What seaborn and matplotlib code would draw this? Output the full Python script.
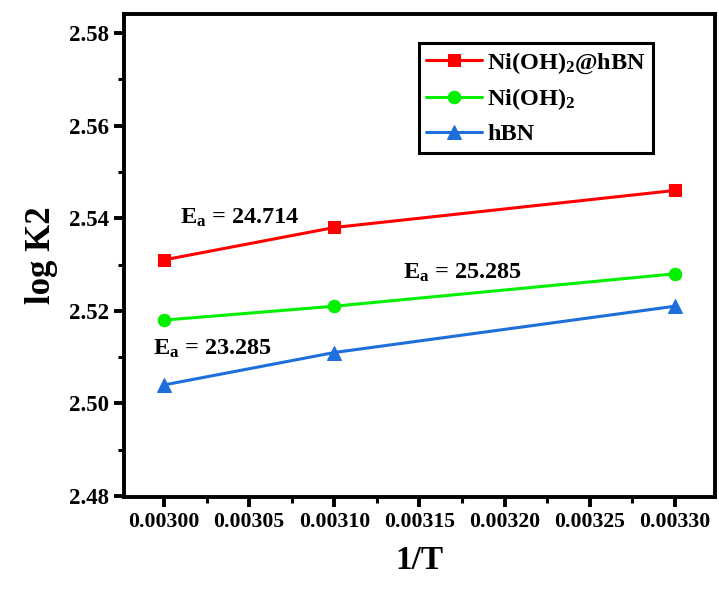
import matplotlib
matplotlib.use("Agg")
import matplotlib.pyplot as plt
import seaborn as sns
import pandas as pd
from matplotlib.ticker import MultipleLocator, FormatStrFormatter

inv_T = [0.00300, 0.00310, 0.00330]
ni_hbn = [2.531, 2.538, 2.546]
ni_oh = [2.518, 2.521, 2.528]
hbn = [2.504, 2.511, 2.521]
series_names = [r"Ni(OH)$_\mathbf{2}$@hBN", r"Ni(OH)$_\mathbf{2}$", "hBN"]
ea_labels = [r"E$_\mathbf{a}$ = 24.714", r"E$_\mathbf{a}$ = 25.285", r"E$_\mathbf{a}$ = 23.285"]

sns.set_style("ticks")
plt.rcParams["font.family"] = ["Liberation Serif", "DejaVu Serif"]
plt.rcParams["font.weight"] = "bold"
plt.rcParams["text.color"] = "black"
plt.rcParams["axes.labelcolor"] = "black"
plt.rcParams["xtick.color"] = "black"
plt.rcParams["ytick.color"] = "black"
plt.rcParams["mathtext.fontset"] = "custom"
plt.rcParams["mathtext.rm"] = "Liberation Serif:bold"
plt.rcParams["mathtext.bf"] = "Liberation Serif:bold"
plt.rcParams["mathtext.it"] = "Liberation Serif:bold:italic"

df = pd.DataFrame({
    "x": inv_T * 3,
    "y": ni_hbn + ni_oh + hbn,
    "series": [series_names[0]] * 3 + [series_names[1]] * 3 + [series_names[2]] * 3,
})

fig = plt.figure(figsize=(7.19, 5.94), dpi=100)
ax = fig.add_axes([124/719, 1-497/594, (715-124)/719, (497-14)/594])

colors = ["#FF0000", "#00F000", "#1E6FDC"]
markers = ["s", "o", "^"]
msizes = [8, 9, 10]
for name, c, m, ms in zip(series_names, colors, markers, msizes):
    sub = df[df["series"] == name]
    sns.lineplot(data=sub, x="x", y="y", ax=ax, color=c, marker=m, markersize=ms,
                 markeredgecolor=c, linewidth=2.2, label=name)

ax.set_xlim(0.0029765, 0.0033235)
ax.set_ylim(2.4798, 2.5841)
ax.xaxis.set_major_locator(MultipleLocator(0.00005))
ax.xaxis.set_minor_locator(MultipleLocator(0.000025))
ax.xaxis.set_major_formatter(FormatStrFormatter("%.5f"))
ax.yaxis.set_major_locator(MultipleLocator(0.02))
ax.yaxis.set_minor_locator(MultipleLocator(0.01))
ax.yaxis.set_major_formatter(FormatStrFormatter("%.2f"))
ax.tick_params(which="major", direction="out", length=7, width=2.8, labelsize=15.7,
               colors="black")
ax.tick_params(axis="y", which="major", labelsize=16.5)
ax.tick_params(which="minor", direction="out", length=4, width=2.2, colors="black")
for lab in ax.get_xticklabels() + ax.get_yticklabels():
    lab.set_fontweight("bold")
for s in ax.spines.values():
    s.set_linewidth(2.8)
    s.set_color("black")

ax.set_xlabel("1/T", fontsize=24, fontweight="bold", labelpad=10, color="black")
ax.set_ylabel("log K2", fontsize=25, fontweight="bold", labelpad=8, color="black")

ax.text(0.0030094, 2.5400, ea_labels[0], fontsize=17.5, fontweight="bold", va="center")
ax.text(0.0031403, 2.5282, ea_labels[1], fontsize=17.5, fontweight="bold", va="center")
ax.text(0.0029935, 2.5117, ea_labels[2], fontsize=17.5, fontweight="bold", va="center")

leg = ax.legend(loc="upper right", bbox_to_anchor=(0.895, 0.94), borderaxespad=0,
                fontsize=17.5, frameon=True, fancybox=False, framealpha=1,
                handlelength=2.3, handletextpad=0.2, borderpad=0.3, labelspacing=0.45)
leg.get_frame().set_edgecolor("black")
leg.get_frame().set_linewidth(2.2)
for t in leg.get_texts():
    t.set_fontweight("bold")
    t.set_color("black")

fig.savefig("out.png", dpi=100)
